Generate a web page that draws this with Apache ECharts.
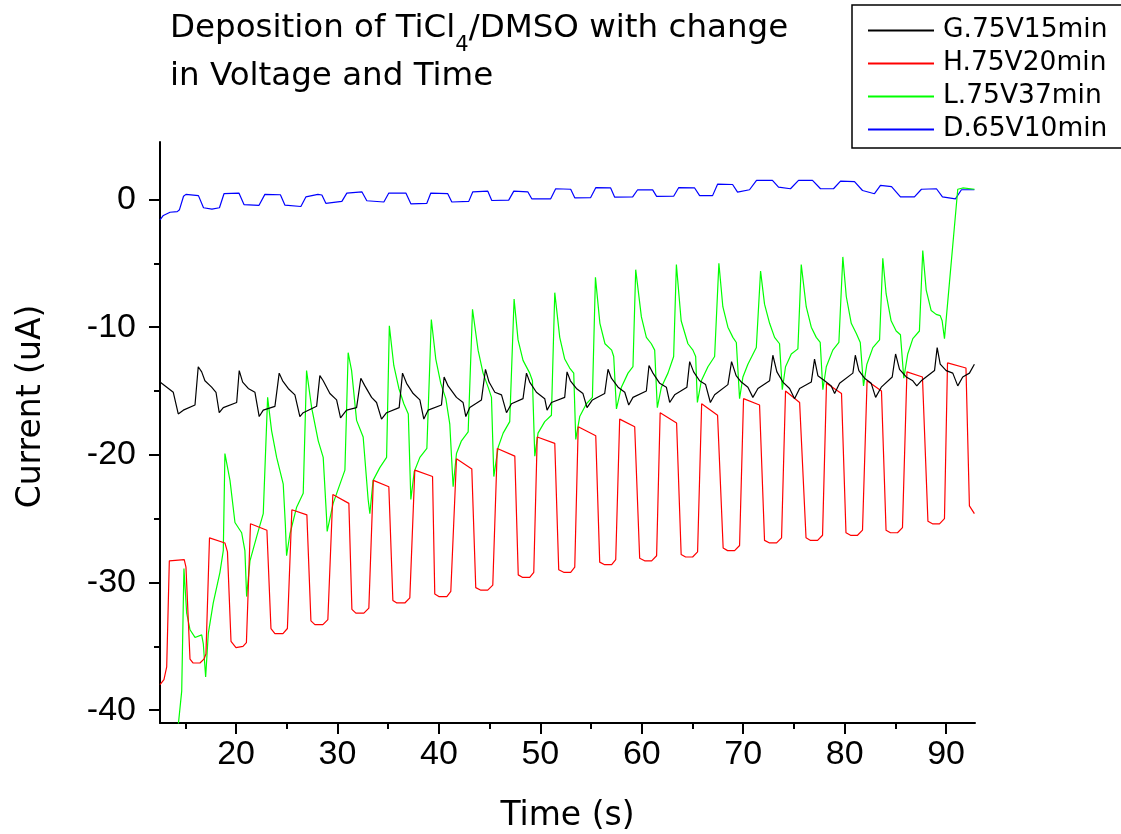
<!DOCTYPE html>
<html lang="en">
<head>
<meta charset="UTF-8">
<title>Deposition of TiCl4/DMSO</title>
<script src="https://cdn.jsdelivr.net/npm/echarts@6.0.0/dist/echarts.min.js"></script>
<style>
  html, body { margin: 0; padding: 0; background: #fff; }
  #chart { width: 1121px; height: 834px; }
</style>
</head>
<body>
<div id="chart"></div>
<script>
// series names (legend order)
const seriesNames = ['G.75V15min', 'H.75V20min', 'L.75V37min', 'D.65V10min']

// tick positions
const xMajorTicks = [20, 30, 40, 50, 60, 70, 80, 90]
const xMinorTicks = [15, 25, 35, 45, 55, 65, 75, 85]
const yMajorTicks = [-40, -30, -20, -10, 0]
const yMinorTicks = [-35, -25, -15, -5]

// G.75V15min  [time (s), current (uA)]
const dataG = [
  [12.50,-14.3],[13.81,-15.1],[14.30,-16.8],[14.80,-16.5],[15.95,-16.1],[16.27,-13.1],[16.61,-13.5],[16.93,-14.2],[17.59,-14.7],[18.02,-15.1],
  [18.34,-16.7],[18.74,-16.3],[20.06,-15.9],[20.31,-13.4],[20.65,-14.3],[21.20,-14.8],[21.86,-15.1],[22.28,-17.0],[22.68,-16.5],[23.83,-16.2],
  [24.25,-13.6],[24.59,-14.2],[25.14,-14.8],[25.80,-15.3],[26.29,-17.0],[26.62,-16.7],[27.94,-16.2],[28.26,-13.8],[28.59,-14.2],[29.25,-15.2],
  [29.91,-15.7],[30.30,-17.1],[30.89,-16.5],[31.88,-16.3],[32.30,-14.0],[32.70,-14.6],[33.36,-15.5],[33.85,-15.9],[34.34,-17.2],[34.84,-16.7],
  [36.08,-16.3],[36.41,-13.6],[36.81,-14.4],[37.46,-15.2],[38.12,-15.7],[38.51,-17.2],[38.93,-16.5],[40.25,-16.1],[40.51,-13.9],[40.90,-14.6],
  [41.73,-15.5],[42.38,-15.9],[42.65,-17.0],[43.04,-16.3],[44.19,-15.7],[44.59,-13.3],[44.94,-14.3],[45.51,-15.1],[46.17,-15.3],[46.66,-16.7],
  [47.15,-16.0],[48.29,-15.6],[48.63,-13.6],[48.95,-14.3],[49.61,-15.1],[50.43,-15.6],[50.66,-16.5],[51.09,-15.9],[52.40,-15.5],[52.63,-13.5],
  [52.96,-14.2],[53.55,-14.8],[54.20,-15.2],[54.60,-16.3],[55.13,-15.7],[56.34,-15.2],[56.67,-13.3],[57.00,-14.0],[57.66,-14.7],[58.32,-15.1],
  [58.71,-16.1],[59.13,-15.5],[60.45,-15.0],[60.71,-13.0],[61.10,-13.6],[61.77,-14.4],[62.42,-14.7],[62.75,-15.9],[63.24,-15.3],[64.45,-14.7],
  [64.72,-12.7],[65.11,-13.5],[65.70,-14.2],[66.29,-14.5],[66.76,-15.9],[67.18,-15.3],[68.49,-14.5],[68.85,-12.7],[69.30,-13.8],[69.81,-14.3],
  [70.46,-14.7],[70.95,-15.5],[71.45,-14.8],[72.60,-14.2],[72.92,-12.2],[73.32,-13.5],[73.91,-14.3],[74.57,-14.8],[75.06,-15.6],[75.56,-14.8],
  [76.71,-14.3],[77.03,-12.5],[77.36,-13.8],[78.02,-14.2],[78.68,-14.6],[79.01,-15.2],[79.50,-14.4],[80.81,-13.6],[81.05,-12.2],[81.40,-13.4],
  [81.96,-14.0],[82.62,-14.4],[83.05,-15.5],[83.61,-14.7],[84.69,-13.9],[85.02,-12.1],[85.41,-13.3],[86.07,-13.9],[86.72,-14.2],[87.11,-14.6],
  [87.55,-14.2],[88.86,-13.4],[89.12,-11.6],[89.42,-12.9],[90.01,-13.4],[90.66,-13.6],[91.15,-14.6],[91.64,-13.9],[92.30,-13.6],[92.79,-12.9]
]

// H.75V20min
const dataH = [
  [12.50,-38.0],[12.89,-37.6],[13.16,-36.6],[13.42,-28.3],[14.89,-28.2],[15.06,-28.8],[15.46,-36.0],[15.75,-36.3],[16.44,-36.3],[16.83,-36.0],[17.03,-35.6],
  [17.38,-26.5],[18.90,-26.9],[19.15,-27.6],[19.50,-34.6],[19.99,-35.1],[20.68,-35.0],[21.02,-34.7],
  [21.42,-25.4],[23.04,-25.9],[23.44,-33.6],[23.83,-34.0],[24.62,-34.0],[25.06,-33.6],
  [25.50,-24.3],[26.98,-24.7],[27.38,-33.0],[27.77,-33.3],[28.56,-33.3],[29.05,-32.9],
  [29.54,-23.1],[31.12,-23.8],[31.42,-32.1],[31.81,-32.4],[32.60,-32.4],[33.09,-32.0],
  [33.53,-22.0],[35.06,-22.5],[35.46,-31.4],[35.85,-31.6],[36.64,-31.6],[37.13,-31.2],
  [37.62,-21.2],[39.37,-21.7],[39.59,-30.9],[39.99,-31.1],[40.78,-31.1],[41.17,-30.7],
  [41.73,-20.3],[43.24,-21.1],[43.63,-30.4],[44.13,-30.6],[44.81,-30.6],[45.31,-30.2],
  [45.75,-19.5],[47.48,-20.1],[47.82,-29.4],[48.26,-29.6],[48.95,-29.6],[49.35,-29.2],
  [49.69,-18.6],[51.42,-19.1],[51.81,-29.0],[52.30,-29.2],[52.99,-29.2],[53.39,-28.8],
  [53.73,-17.8],[55.46,-18.5],[55.85,-28.4],[56.34,-28.6],[57.03,-28.6],[57.43,-28.2],
  [57.82,-17.2],[59.30,-17.8],[59.79,-28.1],[60.28,-28.3],[60.97,-28.3],[61.46,-27.9],
  [61.81,-16.7],[63.43,-17.5],[63.88,-27.8],[64.32,-28.0],[65.01,-28.0],[65.50,-27.6],
  [65.90,-16.0],[67.47,-16.9],[68.02,-27.3],[68.46,-27.5],[69.15,-27.5],[69.64,-27.1],
  [70.03,-15.6],[71.61,-16.1],[72.10,-26.7],[72.60,-26.9],[73.29,-26.9],[73.78,-26.5],
  [74.17,-15.0],[75.56,-15.9],[76.19,-26.5],[76.64,-26.7],[77.33,-26.7],[77.82,-26.3],
  [78.21,-14.4],[79.69,-15.2],[80.13,-26.1],[80.58,-26.3],[81.27,-26.3],[81.76,-25.9],
  [82.21,-14.2],[83.63,-15.0],[84.08,-25.9],[84.52,-26.1],[85.21,-26.1],[85.70,-25.7],
  [86.14,-13.5],[87.67,-13.9],[88.21,-25.2],[88.66,-25.4],[89.35,-25.4],[89.84,-25.0],
  [90.14,-12.8],[91.96,-13.2],[92.30,-24.0],[92.79,-24.6]
]

// L.75V37min
const dataL = [
  [14.13,-42.5],[14.64,-38.5],[14.86,-28.9],[15.13,-32.4],[15.46,-33.7],[15.95,-34.3],[16.61,-34.1],[16.77,-34.8],[17.00,-37.4],[17.26,-34.0],
  [17.75,-31.6],[18.41,-29.2],[18.74,-27.5],
  [18.90,-19.9],[19.40,-22.0],[19.89,-25.3],[20.55,-26.1],[20.87,-27.5],[21.04,-31.1],[21.37,-28.3],[22.03,-26.4],[22.68,-24.6],
  [23.11,-15.5],[23.50,-18.1],[24.00,-20.2],[24.65,-22.3],[24.86,-25.5],[24.98,-27.9],[25.31,-26.2],[25.97,-24.1],[26.62,-23.0],
  [26.95,-13.4],[27.45,-16.3],[28.10,-18.9],[28.59,-20.2],[28.92,-24.9],[28.98,-26.0],[29.57,-23.8],[30.73,-21.2],
  [31.05,-12.0],[31.39,-13.4],[31.88,-17.3],[32.53,-18.6],[33.02,-23.5],[33.19,-24.6],[33.51,-22.0],[34.17,-21.0],[34.84,-20.2],
  [35.11,-9.9],[35.55,-13.0],[36.05,-14.8],[36.54,-16.0],[36.98,-16.8],[37.23,-23.5],[37.57,-21.3],[38.12,-20.2],[38.81,-19.5],
  [39.25,-9.4],[39.69,-12.5],[40.18,-14.4],[40.68,-15.6],[41.07,-17.6],[41.40,-22.5],[41.73,-19.9],[42.22,-18.9],[42.88,-18.2],
  [43.31,-8.6],[43.86,-11.8],[44.35,-13.6],[44.85,-14.7],[45.18,-15.5],[45.41,-21.7],[45.84,-19.4],[46.33,-18.3],[46.98,-17.4],
  [47.41,-7.8],[47.80,-11.0],[48.29,-12.6],[48.95,-13.6],[49.22,-14.2],[49.45,-20.1],[49.77,-18.3],[50.43,-17.4],[51.09,-16.9],
  [51.42,-7.3],[51.91,-10.8],[52.40,-12.5],[52.89,-13.2],[53.29,-13.6],[53.49,-18.8],[53.88,-17.0],[54.54,-16.0],[55.13,-15.5],
  [55.43,-6.1],[55.87,-9.7],[56.37,-11.3],[57.03,-11.8],[57.23,-12.3],[57.50,-16.4],[57.99,-14.7],[58.64,-13.6],[59.13,-13.1],
  [59.40,-5.5],[59.96,-9.2],[60.45,-10.8],[60.94,-11.3],[61.27,-11.8],[61.53,-16.3],[61.93,-14.7],[62.58,-13.6],[63.14,-12.3],
  [63.41,-5.1],[63.88,-9.5],[64.55,-11.3],[65.04,-11.8],[65.31,-12.3],[65.48,-15.9],[65.87,-14.2],[66.52,-13.1],[67.18,-12.3],
  [67.60,-5.0],[67.99,-8.4],[68.49,-10.0],[68.98,-10.8],[69.32,-11.2],[69.64,-15.6],[69.97,-13.9],[70.46,-12.9],[71.29,-11.6],
  [71.71,-5.6],[72.10,-8.2],[72.60,-9.7],[73.09,-10.8],[73.58,-11.3],[73.85,-14.9],[74.17,-13.1],[74.74,-12.1],[75.39,-11.7],
  [75.72,-5.1],[76.21,-8.4],[76.71,-10.0],[77.20,-10.8],[77.59,-11.2],[77.85,-14.9],[78.19,-13.1],[78.83,-11.8],[79.43,-11.2],
  [79.82,-4.5],[80.16,-7.6],[80.65,-9.7],[81.15,-10.5],[81.54,-11.2],[81.86,-14.6],[82.19,-12.9],[82.78,-11.6],[83.44,-11.0],
  [83.76,-4.6],[84.09,-7.4],[84.58,-9.5],[85.08,-10.3],[85.50,-10.6],[85.83,-14.0],[86.22,-12.1],[86.72,-10.9],[87.37,-10.3],
  [87.70,-4.0],[88.04,-7.1],[88.53,-8.7],[89.02,-9.0],[89.42,-9.1],[89.61,-9.5],[89.84,-10.9],[91.15,0.8],[91.64,0.9],[92.80,0.8]
]

// D.65V10min
const dataD = [
  [12.50,-1.6],[12.83,-1.25],[13.49,-1.0],[14.20,-0.95],[14.42,-0.8],[14.82,0.25],[15.06,0.4],[16.29,0.3],[16.79,-0.65],[17.62,-0.75],[18.36,-0.65],
  [18.81,0.45],[20.28,0.5],[20.78,-0.4],[22.25,-0.47],
  [22.84,0.4],[24.37,0.37],[24.82,-0.45],[26.39,-0.55],
  [26.88,0.2],[28.07,0.4],[28.46,0.35],[28.85,-0.3],[30.43,-0.15],
  [30.92,0.5],[32.40,0.6],[32.89,-0.1],[34.57,-0.2],
  [35.06,0.5],[36.74,0.5],[37.23,-0.34],[38.81,-0.3],
  [39.20,0.5],[40.87,0.45],[41.27,-0.2],[42.94,-0.15],
  [43.34,0.6],[44.82,0.65],[45.21,-0.08],[46.88,-0.05],
  [47.38,0.65],[48.76,0.6],[49.15,0.05],[51.02,0.05],
  [51.51,0.84],[52.99,0.8],[53.39,0.13],[54.96,0.15],
  [55.46,0.92],[56.93,0.9],[57.33,0.18],[59.10,0.2],
  [59.59,0.76],[61.07,0.75],[61.46,0.24],[63.14,0.25],
  [63.63,0.92],[65.21,0.9],[65.70,0.3],[66.98,0.3],
  [67.47,1.2],[68.95,1.17],[69.44,0.57],[70.62,0.76],
  [71.31,1.5],[72.88,1.5],[73.48,0.96],[74.66,0.84],
  [75.45,1.5],[76.83,1.5],[77.62,0.84],[78.90,0.84],
  [79.59,1.43],[80.97,1.4],[81.76,0.7],[82.94,0.45],
  [83.53,1.1],[84.62,1.0],[85.50,0.2],[86.88,0.2],
  [87.57,0.8],[89.05,0.84],[89.64,0.2],[90.92,0.05],
  [91.51,0.76],[92.79,0.76]
]

const seriesData = [dataG, dataH, dataL, dataD]
const seriesColors = ['#000000', '#ff0000', '#00ff00', '#0000ff']

const labelFont = 'Liberation Sans, Arial, sans-serif'
const textFont = 'DejaVu Sans, sans-serif'

const chart = echarts.init(document.getElementById('chart'))

const axisLineStyle = { color: '#000', width: 2 }

const option = {
  animation: false,
  backgroundColor: '#fff',
  title: {
    left: 170,
    top: 5,
    padding: 0,
    text: '{a|Deposition of TiCl}{s|4}{a|/DMSO with change}\n{a|in Voltage and Time}',
    textStyle: {
      rich: {
        a: { fontSize: 32.5, fontWeight: 'normal', fontFamily: textFont, color: '#000', lineHeight: 48 },
        s: { fontSize: 21, fontWeight: 'normal', fontFamily: textFont, color: '#000', lineHeight: 14, padding: [34, 0, 0, 0] }
      }
    }
  },
  legend: {
    data: seriesNames,
    orient: 'vertical',
    left: 852,
    top: 5,
    itemWidth: 66,
    itemHeight: 14,
    itemGap: 6,
    // hide the symbol drawn in the middle of each line sample
    itemStyle: { opacity: 0, borderWidth: 0 },
    padding: [12, 18, 5, 15],
    borderColor: '#000',
    borderWidth: 1.5,
    selectedMode: false,
    textStyle: { fontSize: 26.5, lineHeight: 26, fontFamily: textFont, color: '#000', padding: [0, 0, 0, 4] }
  },
  grid: { left: 160, right: 146, top: 142, bottom: 111, outerBoundsMode: 'none' },
  xAxis: [
    {
      type: 'value',
      min: 12.5,
      max: 92.85,
      position: 'bottom',
      name: 'Time (s)',
      nameLocation: 'middle',
      nameGap: 77,
      nameTextStyle: { fontSize: 33, fontFamily: textFont, color: '#000' },
      axisLine: { show: true, onZero: false, lineStyle: axisLineStyle },
      axisTick: { show: true, customValues: xMajorTicks, length: 11, lineStyle: axisLineStyle },
      axisLabel: { customValues: xMajorTicks, fontSize: 34, fontFamily: labelFont, color: '#000', margin: 15 },
      splitLine: { show: false }
    },
    {
      type: 'value',
      min: 12.5,
      max: 92.85,
      position: 'bottom',
      axisLine: { show: false, onZero: false },
      axisTick: { show: true, customValues: xMinorTicks, length: 6, lineStyle: axisLineStyle },
      axisLabel: { show: false },
      splitLine: { show: false }
    }
  ],
  yAxis: [
    {
      type: 'value',
      min: -41,
      max: 4.5,
      position: 'left',
      name: 'Current (uA)',
      nameLocation: 'middle',
      nameGap: 112,
      nameTextStyle: { fontSize: 33, fontFamily: textFont, color: '#000', padding: [0, 0, 0, 52] },
      axisLine: { show: true, onZero: false, lineStyle: axisLineStyle },
      axisTick: { show: true, customValues: yMajorTicks, length: 11, lineStyle: axisLineStyle },
      axisLabel: { customValues: yMajorTicks, fontSize: 34, fontFamily: labelFont, color: '#000', margin: 24 },
      splitLine: { show: false }
    },
    {
      type: 'value',
      min: -41,
      max: 4.5,
      position: 'left',
      axisLine: { show: false, onZero: false },
      axisTick: { show: true, customValues: yMinorTicks, length: 6, lineStyle: axisLineStyle },
      axisLabel: { show: false },
      splitLine: { show: false }
    }
  ],
  series: seriesNames.map((name, i) => ({
    name: name,
    type: 'line',
    xAxisIndex: 0,
    yAxisIndex: 0,
    symbol: 'none',
    clip: true,
    data: seriesData[i],
    lineStyle: { color: seriesColors[i], width: 1.2 },
    itemStyle: { color: seriesColors[i] },
    z: 10 - i
  }))
}

chart.setOption(option)
</script>
</body>
</html>
